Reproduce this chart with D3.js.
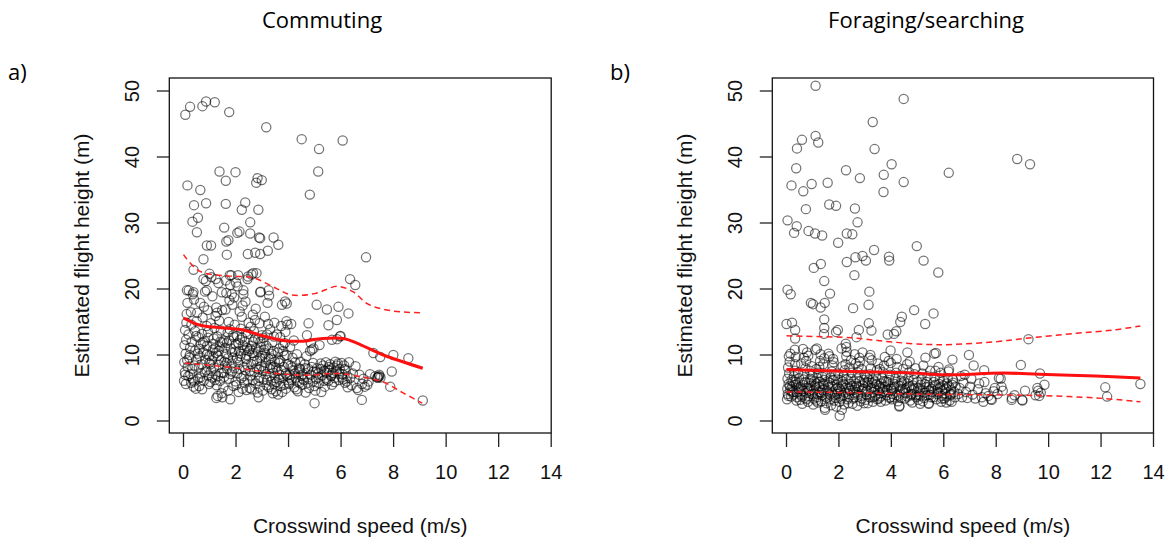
<!DOCTYPE html>
<html>
<head>
<meta charset="utf-8">
<script src="https://cdn.jsdelivr.net/npm/d3@7"></script>
<style>
  body { margin: 0; background: #fff; }
  svg { display: block; }
</style>
</head>
<body>
<svg id="drawing_region"></svg>
<script>
// tick labels
const xTicks = [0, 2, 4, 6, 8, 10, 12, 14];
const yTicks = [0, 10, 20, 30, 40, 50];

// a) commuting : [crosswind speed, flight height]
const commutingPoints = [
  [0.07,46.4],[0.25,47.6],[0.72,47.7],[0.86,48.4],[1.19,48.3],[1.74,46.8],[3.15,44.5],[4.5,42.7],[5.16,41.2],[6.06,42.5],
  [5.13,37.8],[4.81,34.3],[1.37,37.8],[1.98,37.7],[1.61,36.4],[2.82,36.8],[2.98,36.5],[2.77,36.1],[0.15,35.7],[0.64,35.0],
  [0.4,32.7],[0.86,33.0],[1.61,32.9],[2.35,33.1],[2.22,32.0],[2.85,32.0],[0.55,30.8],[0.34,30.2],[0.51,28.6],[1.55,29.3],
  [2.54,30.1],[2.05,28.5],[2.13,28.7],[1.71,27.4],[1.63,27.2],[2.54,28.4],[2.88,27.8],[2.92,27.7],[3.43,27.8],[3.61,26.7],
  [0.89,26.6],[1.05,26.6],[1.65,25.2],[3.21,25.8],[6.95,24.8],[2.45,25.3],[2.73,25.5],[2.92,25.3],[0.76,24.5],
  [0.38,22.9],[0.99,22.3],[1.76,22.1],[2.08,22.1],[2.59,22.2],[2.65,22.4],[0.76,21.5],[1.23,21.5],[1.61,21.3],[2.0,21.0],[2.44,21.5],
  [0.13,19.8],[0.38,19.5],[0.89,19.8],[1.46,19.5],[1.84,19.2],[2.28,19.8],[2.92,19.5],[3.24,19.8],
  [6.34,21.5],[6.54,20.6],[3.93,17.8],[3.87,18.1],[5.07,17.6],[5.46,16.9],[5.9,17.3],[6.28,16.3],
  [4.76,14.8],[5.52,14.5],[5.84,15.3],[4.95,11.0],[4.89,10.8],[5.65,12.3],[5.96,12.8],
  [7.23,10.3],[7.49,9.7],[7.99,10.0],[8.56,9.5],[7.42,6.7],[7.46,6.8],[7.38,6.6],[7.93,7.5],[7.87,5.2],[9.11,3.1],
  [6.79,3.2],[4.99,2.7],[1.78,3.3],[1.25,3.5],[1.3,3.8],
  [0.02,6.1],[0.05,7.4],[0.03,8.9],[0.08,10.2],[0.04,11.5],[0.1,12.3],[0.06,13.8],[0.12,16.2],[0.15,17.9],[0.2,19.8],
  [0.09,5.6],[0.18,6.8],[0.22,9.6],[0.25,11.1],[0.3,14.6],[0.28,16.5],[0.35,19.2],[0.4,18.4],[0.33,7.9],[0.38,5.2],
  [0.42,8.4],[0.45,10.7],[0.48,12.9],[0.5,15.1],[0.14,9.2],[0.26,7.1],[0.36,6.3],[0.44,13.6],[0.47,4.9],[0.11,14.9],
  [0.55,6.4],[0.58,8.1],[0.62,9.8],[0.66,11.6],[0.7,13.2],[0.73,15.7],[0.78,17.3],[0.82,19.6],[0.85,21.2],[0.6,5.3],
  [0.68,7.2],[0.75,10.4],[0.8,12.1],[0.88,14.4],[0.92,16.8],[0.95,6.9],[0.98,8.8],[0.57,12.7],[0.64,17.9],[0.71,4.8],
  [0.84,9.3],[0.9,11.4],[0.97,5.6],[0.52,16.4],[0.77,6.1],[0.93,13.5],[0.87,7.7],[0.61,10.9],
  [1.02,5.9],[1.05,7.6],[1.08,9.2],[1.12,10.8],[1.15,12.5],[1.18,14.1],[1.22,15.9],[1.25,17.2],[1.28,16.4],[1.32,6.8],
  [1.35,8.5],[1.38,11.3],[1.42,13.7],[1.45,4.2],[1.48,3.6],[1.1,18.9],[1.2,6.2],[1.3,9.9],[1.4,12.0],[1.04,14.8],
  [1.16,8.1],[1.26,5.4],[1.36,15.2],[1.44,7.3],[1.13,11.7],[1.24,10.3],[1.47,16.8],[1.33,20.9],[1.06,21.8],
  [1.52,5.1],[1.55,6.7],[1.58,8.4],[1.62,10.1],[1.65,11.8],[1.68,13.4],[1.72,15.0],[1.75,18.3],[1.78,20.6],[1.82,22.1],
  [1.85,7.5],[1.88,9.6],[1.92,12.7],[1.95,14.6],[1.98,6.0],[1.6,16.9],[1.7,4.6],[1.8,11.0],[1.9,5.3],[1.56,9.0],
  [1.66,7.9],[1.76,13.9],[1.86,17.6],[1.96,10.5],[1.63,19.4],[1.73,6.4],[1.83,8.7],[1.93,18.7],[1.54,12.2],
  [2.02,5.5],[2.05,7.2],[2.08,8.9],[2.12,10.6],[2.15,12.3],[2.18,14.0],[2.22,15.8],[2.25,17.5],[2.28,19.2],[2.32,5.8],
  [2.35,7.7],[2.38,9.4],[2.42,11.1],[2.45,13.2],[2.48,14.9],[2.1,4.4],[2.2,6.5],[2.3,8.2],[2.4,10.0],[2.04,12.9],
  [2.14,16.6],[2.24,4.9],[2.34,12.0],[2.44,6.2],[2.46,21.9],[2.36,18.1],[2.06,20.4],[2.16,9.8],[2.26,11.5],[2.4,4.7],
  [2.52,5.0],[2.55,6.9],[2.58,8.6],[2.62,10.3],[2.65,12.0],[2.68,13.6],[2.72,15.3],[2.75,17.0],[2.78,22.4],[2.82,4.3],
  [2.85,6.1],[2.88,7.8],[2.92,9.5],[2.95,11.2],[2.98,13.0],[2.6,4.8],[2.7,7.4],[2.8,9.1],[2.9,14.8],[2.54,10.9],
  [2.64,16.1],[2.74,5.7],[2.84,12.4],[2.94,19.6],[2.56,14.3],[2.66,9.0],[2.76,11.0],[2.86,3.6],[2.96,8.3],[2.9,5.2],
  [3.02,4.6],[3.05,6.3],[3.08,8.0],[3.12,9.7],[3.15,11.4],[3.18,13.1],[3.22,14.7],[3.25,5.1],[3.28,6.8],[3.32,8.5],
  [3.35,10.2],[3.38,11.9],[3.42,7.3],[3.45,5.6],[3.48,9.0],[3.1,15.8],[3.2,17.9],[3.3,13.9],[3.4,4.2],[3.04,12.6],
  [3.14,7.1],[3.24,9.4],[3.34,6.0],[3.44,12.8],[3.26,19.0],[3.36,4.8],[3.16,5.4],[3.46,14.9],[3.06,10.8],
  [3.52,4.5],[3.55,5.9],[3.58,7.6],[3.62,9.3],[3.65,11.0],[3.68,12.7],[3.72,14.4],[3.75,17.6],[3.78,6.5],[3.82,8.2],
  [3.85,9.9],[3.88,13.5],[3.92,15.1],[3.95,6.9],[3.98,8.6],[3.6,4.0],[3.7,5.3],[3.8,10.6],[3.9,4.9],[3.56,13.1],
  [3.66,7.0],[3.76,4.4],[3.86,11.8],[3.96,14.6],[3.64,8.8],
  [4.02,5.6],[4.05,7.0],[4.08,8.4],[4.12,6.2],[4.15,9.6],[4.18,7.7],[4.22,5.1],[4.25,8.9],[4.28,6.6],[4.32,10.1],
  [4.35,4.5],[4.38,7.4],[4.42,5.8],[4.45,9.0],[4.48,6.9],[4.1,14.7],[4.2,12.2],[4.3,4.8],[4.4,8.0],[4.06,11.2],
  [4.52,5.5],[4.55,7.1],[4.58,6.2],[4.62,8.6],[4.65,4.3],[4.68,9.8],[4.72,6.6],[4.75,7.9],[4.78,5.0],[4.82,10.6],
  [4.85,11.8],[4.88,8.2],[4.92,6.0],[4.95,7.5],[4.98,5.3],[4.7,13.0],
  [5.02,4.6],[5.05,6.4],[5.08,8.0],[5.12,7.2],[5.15,5.7],[5.18,11.5],[5.22,8.7],[5.25,4.4],[5.28,6.9],[5.32,8.4],
  [5.35,7.6],[5.38,5.2],[5.42,8.9],[5.45,6.3],[5.48,7.8],
  [5.52,6.1],[5.55,7.7],[5.58,8.6],[5.62,6.8],[5.65,5.5],[5.68,7.3],[5.72,8.1],[5.75,6.5],[5.78,9.0],[5.82,7.5],
  [5.85,12.4],[5.88,8.7],[5.92,6.2],[5.95,7.9],[5.98,12.9],
  [6.02,8.8],[6.05,7.1],[6.08,6.3],[6.12,8.4],[6.15,5.8],[6.18,7.7],[6.22,6.0],[6.25,5.1],[6.3,8.9],[6.35,6.5],
  [6.4,5.4],[6.45,7.2],[6.55,8.3],[6.6,5.0],[6.65,4.7],[6.7,7.0],[6.8,5.6],[6.85,6.4],[6.9,5.2],[7.0,5.5],
  [7.05,6.0],[7.1,7.1],[7.3,6.8],[7.4,6.6],[7.45,7.0],[7.5,6.6],
  [0.07,7.0],[0.16,8.2],[0.24,10.0],[0.31,12.0],[0.19,13.1],[0.41,6.0],[0.49,9.3],[0.29,5.8],
  [0.63,6.6],[0.69,8.6],[0.74,11.9],[0.81,7.4],[0.89,10.1],[0.94,12.6],[0.54,10.2],[0.99,9.9],
  [1.03,8.6],[1.09,6.6],[1.14,9.8],[1.19,11.0],[1.23,7.0],[1.29,12.8],[1.34,10.6],[1.39,6.1],[1.43,9.2],[1.49,11.9],
  [1.53,7.3],[1.59,11.1],[1.64,8.8],[1.69,9.5],[1.74,12.2],[1.79,7.1],[1.84,10.4],[1.89,13.0],[1.94,8.0],[1.99,11.6],
  [2.03,9.5],[2.09,11.8],[2.13,7.9],[2.19,10.2],[2.23,12.6],[2.29,6.8],[2.33,10.8],[2.39,13.5],[2.43,8.5],[2.49,10.6],
  [2.53,7.6],[2.59,11.4],[2.63,6.2],[2.69,9.9],[2.73,12.5],[2.79,8.0],[2.83,10.5],[2.89,6.6],[2.93,12.0],[2.99,9.9],
  [3.03,7.6],[3.09,10.3],[3.13,8.8],[3.19,6.2],[3.23,11.0],[3.29,7.9],[3.33,9.5],[3.39,8.1],[3.43,10.6],[3.49,6.5],
  [3.53,8.1],[3.59,10.4],[3.63,6.3],[3.69,9.1],[3.73,7.7],[3.79,11.5],[3.83,5.5],[3.89,7.2],[3.93,10.0],[3.99,5.8],
  [4.04,6.6],[4.14,8.1],[4.24,7.2],[4.34,6.0],[4.44,7.9],[4.54,6.4],[4.64,8.0],[4.74,5.8],[4.84,7.0],[4.94,8.8],
  [5.04,7.4],[5.14,6.6],[5.24,7.9],[5.34,6.1],[5.44,7.3],[5.54,8.2],[5.64,7.0],[5.74,5.9],[5.84,8.4],[5.94,7.2],
  [6.04,6.6],[6.14,7.9],[6.24,6.8]
];
const commutingFit   = [[0,15.6],[0.64,14.5],[2.28,13.8],[2.92,13.0],[3.8,12.2],[4.56,12.1],[5.07,12.4],[6.09,12.5],[6.6,11.8],[7.61,10.0],[9.11,8.0]];
const commutingUpper = [[0,25.2],[0.61,22.7],[1.78,21.95],[2.65,21.7],[3.53,20.1],[4.11,19.1],[4.99,19.3],[5.86,20.4],[6.45,19.6],[7.03,17.7],[7.91,16.7],[9.0,16.4]];
const commutingLower = [[0.04,8.8],[2.07,8.0],[3.54,7.2],[4.7,6.95],[5.86,7.2],[6.74,6.7],[7.61,5.9],[8.34,4.3],[9.09,2.7]];

// b) foraging/searching
const foragingPoints = [
  [1.11,50.8],[4.47,48.8],[3.29,45.3],[1.11,43.2],[1.21,42.2],[0.59,42.6],[0.4,41.3],[3.36,41.2],[0.37,38.3],[2.27,38.0],
  [4.01,38.9],[8.8,39.7],[9.29,38.9],[6.19,37.6],[3.71,37.3],[2.8,36.8],[4.47,36.2],[1.57,36.1],[0.19,35.7],[0.96,35.9],
  [0.64,34.8],[3.7,34.7],[0.74,32.1],[1.63,32.8],[1.89,32.6],[2.61,32.2],[2.71,30.1],[0.04,30.4],[0.39,29.5],[0.29,28.5],
  [0.84,28.8],[1.09,28.4],[1.36,28.1],[2.3,28.4],[2.51,28.3],[1.97,27.0],[4.97,26.5],[3.34,25.9],[2.9,25.0],[3.03,24.3],
  [2.63,24.8],[3.91,24.9],[3.92,24.3],[5.23,24.3],[2.3,24.1],[1.31,23.8],[1.04,23.2],[5.79,22.5],[2.59,22.1],[1.44,21.2],
  [0.04,19.9],[0.16,19.2],[1.66,19.3],[3.16,19.6],[0.93,17.9],[1.01,17.7],[1.46,17.9],[1.3,17.2],[3.13,17.6],[2.54,17.1],
  [4.87,16.8],[5.61,16.3],[4.4,15.8],[4.34,15.0],[5.29,14.7],[3.14,14.8],[3.24,13.7],[0.0,14.7],[0.21,14.9],[0.33,13.8],
  [1.44,15.4],[1.44,14.1],[1.43,13.2],[0.33,12.5],[1.96,13.8],[1.89,13.5],[2.76,13.8],[2.67,12.7],[3.86,13.1],[4.1,13.2],
  [4.19,13.6],[9.23,12.4],[2.26,11.7],[2.28,11.2],[1.16,11.0],[3.97,10.7],[4.61,10.4],[5.64,10.2],[6.96,10.0],[6.33,9.3],
  [8.94,8.5],[7.14,8.4],[7.54,7.7],[8.17,6.4],[9.67,7.2],[9.84,5.5],[9.57,5.0],[9.1,4.6],[9.64,3.8],[12.16,5.1],
  [12.23,3.7],[13.5,5.6],[8.59,3.2],[8.99,3.2],[7.51,2.9],[7.83,3.2],[5.43,2.6],[4.31,2.3],[2.03,0.8],[2.11,1.7],[1.47,1.7],
  [0.02,3.3],[0.05,4.1],[0.03,4.9],[0.08,5.6],[0.04,6.4],[0.1,7.2],[0.06,8.1],[0.12,9.0],[0.15,10.2],[0.18,3.7],
  [0.2,4.5],[0.22,5.2],[0.25,6.0],[0.28,6.8],[0.3,7.6],[0.33,8.6],[0.35,9.7],[0.38,3.1],[0.4,4.3],[0.42,5.0],
  [0.45,5.8],[0.48,6.5],[0.14,4.7],[0.27,4.0],[0.36,5.5],[0.44,7.3],[0.09,9.8],[0.32,10.8],
  [0.52,3.2],[0.55,4.0],[0.58,4.8],[0.62,5.5],[0.65,6.3],[0.68,7.1],[0.72,8.0],[0.75,9.1],[0.78,10.4],[0.82,2.9],
  [0.85,3.8],[0.88,4.6],[0.92,5.3],[0.95,6.1],[0.98,6.9],[0.6,2.6],[0.7,3.5],[0.8,5.0],[0.9,7.6],[0.56,8.7],
  [0.66,9.6],[0.76,4.3],[0.86,5.8],[0.96,8.3],[0.63,10.9],[0.83,9.9],
  [1.02,2.5],[1.05,3.4],[1.08,4.2],[1.12,5.0],[1.15,5.7],[1.18,6.5],[1.22,7.3],[1.25,8.2],[1.28,9.1],[1.32,3.0],
  [1.35,3.9],[1.38,4.7],[1.42,5.4],[1.45,6.2],[1.48,7.0],[1.1,10.8],[1.2,2.8],[1.3,10.1],[1.4,8.6],[1.06,6.0],
  [1.16,3.6],[1.26,4.4],[1.36,6.7],[1.46,2.0],[1.14,7.9],[1.44,9.5],[1.24,5.2],
  [1.52,2.7],[1.55,3.5],[1.58,4.3],[1.62,5.1],[1.65,5.8],[1.68,6.6],[1.72,7.5],[1.75,8.4],[1.78,9.4],[1.82,3.1],
  [1.85,3.9],[1.88,4.8],[1.92,5.5],[1.95,6.3],[1.98,7.2],[1.6,10.2],[1.7,2.4],[1.8,8.9],[1.9,2.2],[1.56,6.0],
  [1.66,4.0],[1.76,5.2],[1.86,6.9],[1.96,4.5],[1.64,9.8],
  [2.02,2.9],[2.05,3.7],[2.08,4.5],[2.12,5.3],[2.15,6.0],[2.18,6.8],[2.22,7.7],[2.25,8.6],[2.28,9.8],[2.32,3.3],
  [2.35,4.1],[2.38,4.9],[2.42,5.6],[2.45,6.4],[2.48,7.3],[2.1,11.0],[2.2,2.5],[2.3,10.5],[2.4,8.1],[2.06,6.2],
  [2.16,3.9],[2.26,5.0],[2.36,2.7],[2.46,9.2],[2.14,8.3],
  [2.52,2.6],[2.55,3.4],[2.58,4.2],[2.62,5.0],[2.65,5.7],[2.68,6.5],[2.72,7.4],[2.75,8.3],[2.78,9.6],[2.82,3.0],
  [2.85,3.8],[2.88,4.6],[2.92,5.4],[2.95,6.2],[2.98,7.0],[2.6,10.1],[2.7,2.3],[2.8,9.0],[2.9,10.4],[2.56,6.0],
  [2.66,4.4],[2.76,5.1],[2.86,7.9],[2.96,2.7],[2.64,8.7],
  [3.02,3.2],[3.05,4.0],[3.08,4.7],[3.12,5.5],[3.15,6.3],[3.18,7.1],[3.22,8.0],[3.25,9.2],[3.28,3.6],[3.32,4.4],
  [3.35,5.2],[3.38,6.0],[3.42,6.8],[3.45,7.7],[3.48,8.7],[3.1,2.7],[3.2,10.0],[3.3,2.9],[3.4,3.9],[3.06,6.6],
  [3.16,9.6],[3.26,5.8],[3.36,4.8],[3.46,3.3],
  [3.52,3.4],[3.55,4.2],[3.58,5.0],[3.62,5.7],[3.65,6.5],[3.68,7.4],[3.72,8.4],[3.75,9.7],[3.78,3.1],[3.82,3.9],
  [3.85,4.7],[3.88,5.4],[3.92,6.2],[3.95,7.0],[3.98,8.8],[3.6,2.9],[3.7,4.5],[3.8,6.0],[3.9,9.1],[3.56,7.9],
  [3.76,5.2],[3.96,3.6],
  [4.02,3.3],[4.05,4.1],[4.08,4.9],[4.12,5.6],[4.15,6.4],[4.18,7.3],[4.22,8.2],[4.25,3.0],[4.28,3.8],[4.32,4.6],
  [4.35,5.3],[4.38,6.1],[4.42,6.9],[4.45,7.9],[4.48,4.3],[4.3,2.2],[4.2,9.4],[4.4,5.8],[4.1,3.6],
  [4.52,3.4],[4.55,4.2],[4.58,5.0],[4.62,5.7],[4.65,6.5],[4.68,7.4],[4.72,3.1],[4.75,3.9],[4.78,4.7],[4.82,5.4],
  [4.85,6.2],[4.88,7.1],[4.92,8.0],[4.95,3.6],[4.98,4.4],[4.6,8.6],[4.8,2.8],[4.7,9.0],
  [5.02,3.2],[5.05,4.0],[5.08,4.8],[5.12,5.5],[5.15,6.3],[5.18,7.2],[5.22,8.4],[5.25,3.5],[5.28,4.3],[5.32,5.1],
  [5.35,5.9],[5.38,6.8],[5.42,2.7],[5.45,4.6],[5.48,7.6],[5.1,2.6],[5.3,9.6],[5.2,3.0],
  [5.52,3.6],[5.55,4.4],[5.58,5.2],[5.62,5.9],[5.65,6.7],[5.68,7.6],[5.72,3.3],[5.75,4.1],[5.78,4.9],[5.82,5.6],
  [5.85,6.4],[5.88,7.3],[5.92,3.8],[5.95,4.6],[5.98,5.4],[5.7,10.3],[5.8,8.2],[5.9,2.9],
  [6.02,3.4],[6.05,4.2],[6.08,5.0],[6.12,5.7],[6.15,6.5],[6.18,7.5],[6.22,3.1],[6.25,3.9],[6.28,4.7],[6.32,5.5],
  [6.35,6.3],[6.4,4.4],[6.45,5.2],[6.1,2.8],[6.2,7.8],[6.3,2.9],
  [6.55,4.1],[6.6,5.0],[6.7,3.6],[6.75,5.8],[6.85,4.4],[6.9,3.5],[7.0,5.2],[7.05,6.4],[7.1,4.0],[7.2,3.4],
  [7.3,4.8],[7.35,5.7],[7.45,3.6],[7.55,5.9],[7.6,4.2],[7.7,3.8],[7.8,3.3],[7.9,4.5],[7.95,5.0],[8.05,4.1],
  [8.1,6.5],[8.2,5.2],[8.25,4.6],[8.6,3.5],[8.7,3.9],[9.0,3.1],[9.5,3.9],[9.6,4.6],[9.7,4.3],[6.65,6.8],[6.8,7.0],
  [0.07,3.8],[0.13,5.3],[0.19,6.2],[0.26,4.4],[0.34,5.9],[0.41,3.6],[0.47,4.8],
  [0.53,5.1],[0.59,3.7],[0.64,4.5],[0.71,5.9],[0.77,3.3],[0.84,4.9],[0.91,6.4],[0.97,4.1],
  [1.03,4.6],[1.09,5.4],[1.13,3.1],[1.19,4.0],[1.27,5.9],[1.33,4.3],[1.39,5.6],[1.47,3.7],
  [1.53,4.6],[1.59,5.5],[1.67,3.3],[1.73,4.2],[1.79,6.2],[1.87,3.5],[1.93,4.1],[1.99,5.1],
  [2.03,4.8],[2.09,3.4],[2.17,5.6],[2.23,4.3],[2.29,6.3],[2.37,3.6],[2.43,4.6],[2.49,5.3],
  [2.53,4.7],[2.59,3.6],[2.67,5.3],[2.73,4.0],[2.79,6.0],[2.87,3.4],[2.93,4.9],[2.99,5.8],
  [3.03,4.4],[3.09,5.9],[3.17,3.6],[3.23,5.0],[3.29,6.3],[3.37,3.7],[3.43,5.6],[3.49,4.6],
  [3.53,5.3],[3.59,3.7],[3.67,4.9],[3.73,6.0],[3.79,4.3],[3.87,5.9],[3.93,3.5],[3.99,4.9],
  [4.03,4.6],[4.11,5.2],[4.19,3.9],[4.27,5.4],[4.36,3.5],[4.43,4.9],[4.49,6.0],
  [4.53,4.8],[4.61,3.7],[4.69,5.3],[4.77,4.1],[4.86,5.0],[4.93,3.9],[4.99,5.9],
  [5.03,5.0],[5.11,3.8],[5.19,4.6],[5.27,5.6],[5.36,3.9],[5.43,5.2],[5.49,4.0],
  [5.53,4.9],[5.61,3.6],[5.69,5.5],[5.77,4.4],[5.86,5.1],[5.93,3.4],[5.99,6.1],
  [6.03,4.8],[6.11,3.7],[6.19,5.3],[6.27,4.1],[6.36,5.8],[6.43,3.6]
];
const foragingFit   = [[0,7.8],[2.5,7.5],[4.64,7.3],[6.07,7.0],[8.21,7.26],[9.64,7.1],[11.8,6.8],[13.5,6.5]];
const foragingUpper = [[0,12.9],[2.5,12.6],[3.93,12.0],[5.36,11.6],[6.36,11.6],[7.93,12.0],[9.07,12.5],[11.07,13.3],[12.5,13.8],[13.5,14.4]];
const foragingLower = [[0,4.4],[2.5,4.3],[5.36,4.05],[8.21,3.95],[9.64,3.85],[11.8,3.5],[13.5,2.9]];

class ScatterPanel {
    constructor(config, data) {
        this.config = config;
        this.data = data;
        this.init();
    }

    init() {
        let self = this;
        let c = self.config;

        self.svg = d3.select(c.parent);
        self.chart = self.svg.append('g');

        // R style: 4% padding left of 0 / below 0 and above 50
        self.xscale = d3.scaleLinear()
            .domain([0, 14])
            .range([c.box.left + 14.2, c.box.right]);
        self.yscale = d3.scaleLinear()
            .domain([0, 50])
            .range([c.box.bottom - 12, c.box.top + 13]);

        self.line = d3.line()
            .x(d => self.xscale(d[0]))
            .y(d => self.yscale(d[1]))
            .curve(d3.curveCatmullRom.alpha(0.5));
    }

    render() {
        let self = this;
        let c = self.config;
        let g = self.chart;

        g.append('text')
            .attr('x', c.titleX)
            .attr('y', 28)
            .attr('text-anchor', 'middle')
            .attr('font-family', '"Open Sans", sans-serif')
            .attr('font-size', '22px')
            .text(c.title);

        g.append('text')
            .attr('x', c.letterX)
            .attr('y', 80)
            .attr('font-family', '"Open Sans", sans-serif')
            .attr('font-size', '22px')
            .text(c.letter);

        g.selectAll('.pt')
            .data(self.data.points)
            .enter()
            .append('circle')
            .attr('cx', d => self.xscale(d[0]))
            .attr('cy', d => self.yscale(d[1]))
            .attr('r', 4.6)
            .attr('fill', 'none')
            .attr('stroke', 'rgba(0,0,0,0.55)')
            .attr('stroke-width', 1.25);

        g.append('path')
            .attr('d', self.line(self.data.fit))
            .attr('fill', 'none')
            .attr('stroke', '#ff1010')
            .attr('stroke-width', 3);

        [self.data.upper, self.data.lower].forEach(band => {
            g.append('path')
                .attr('d', self.line(band))
                .attr('fill', 'none')
                .attr('stroke', '#ff2020')
                .attr('stroke-width', 1.5)
                .attr('stroke-dasharray', '6,4');
        });

        g.append('rect')
            .attr('x', c.box.left)
            .attr('y', c.box.top)
            .attr('width', c.box.right - c.box.left)
            .attr('height', c.box.bottom - c.box.top)
            .attr('fill', 'none')
            .attr('stroke', '#111')
            .attr('stroke-width', 1.3);

        // x axis: ticks hang below the box
        g.selectAll('.xt')
            .data(xTicks)
            .enter()
            .append('line')
            .attr('x1', d => self.xscale(d))
            .attr('x2', d => self.xscale(d))
            .attr('y1', c.box.bottom)
            .attr('y2', c.box.bottom + 14)
            .attr('stroke', '#222')
            .attr('stroke-width', 1.3);

        g.selectAll('.xl')
            .data(xTicks)
            .enter()
            .append('text')
            .attr('x', d => self.xscale(d))
            .attr('y', 479)
            .attr('text-anchor', 'middle')
            .attr('font-family', '"Liberation Sans", Arial, sans-serif')
            .attr('font-size', '20px')
            .attr('fill', '#111')
            .text(d => d);

        g.selectAll('.yt')
            .data(yTicks)
            .enter()
            .append('line')
            .attr('x1', c.box.left - 12.5)
            .attr('x2', c.box.left)
            .attr('y1', d => self.yscale(d))
            .attr('y2', d => self.yscale(d))
            .attr('stroke', '#222')
            .attr('stroke-width', 1.3);

        g.selectAll('.yl')
            .data(yTicks)
            .enter()
            .append('text')
            .attr('transform', d => `translate(${c.box.left - 30.5}, ${self.yscale(d)}) rotate(-90)`)
            .attr('text-anchor', 'middle')
            .attr('font-family', '"Liberation Sans", Arial, sans-serif')
            .attr('font-size', '20px')
            .attr('fill', '#111')
            .text(d => d);

        g.append('text')
            .attr('x', (c.box.left + c.box.right) / 2)
            .attr('y', 533)
            .attr('text-anchor', 'middle')
            .attr('font-family', '"Liberation Sans", Arial, sans-serif')
            .attr('font-size', '21px')
            .attr('fill', '#111')
            .text('Crosswind speed (m/s)');

        g.append('text')
            .attr('transform', `translate(${c.box.left - 80}, ${(c.box.top + c.box.bottom) / 2}) rotate(-90)`)
            .attr('text-anchor', 'middle')
            .attr('font-family', '"Liberation Sans", Arial, sans-serif')
            .attr('font-size', '21px')
            .attr('fill', '#111')
            .text('Estimated flight height (m)');
    }
}

d3.select('#drawing_region')
    .attr('width', 1176)
    .attr('height', 544);

const panelA = new ScatterPanel({
    parent: '#drawing_region',
    box: {left: 169.3, top: 78, right: 551.2, bottom: 433},
    title: 'Commuting', titleX: 322,
    letter: 'a)', letterX: 8
}, {points: commutingPoints, fit: commutingFit, upper: commutingUpper, lower: commutingLower});
panelA.render();

const panelB = new ScatterPanel({
    parent: '#drawing_region',
    box: {left: 772.3, top: 78, right: 1153.5, bottom: 433},
    title: 'Foraging/searching', titleX: 926,
    letter: 'b)', letterX: 610
}, {points: foragingPoints, fit: foragingFit, upper: foragingUpper, lower: foragingLower});
panelB.render();
</script>
</body>
</html>
